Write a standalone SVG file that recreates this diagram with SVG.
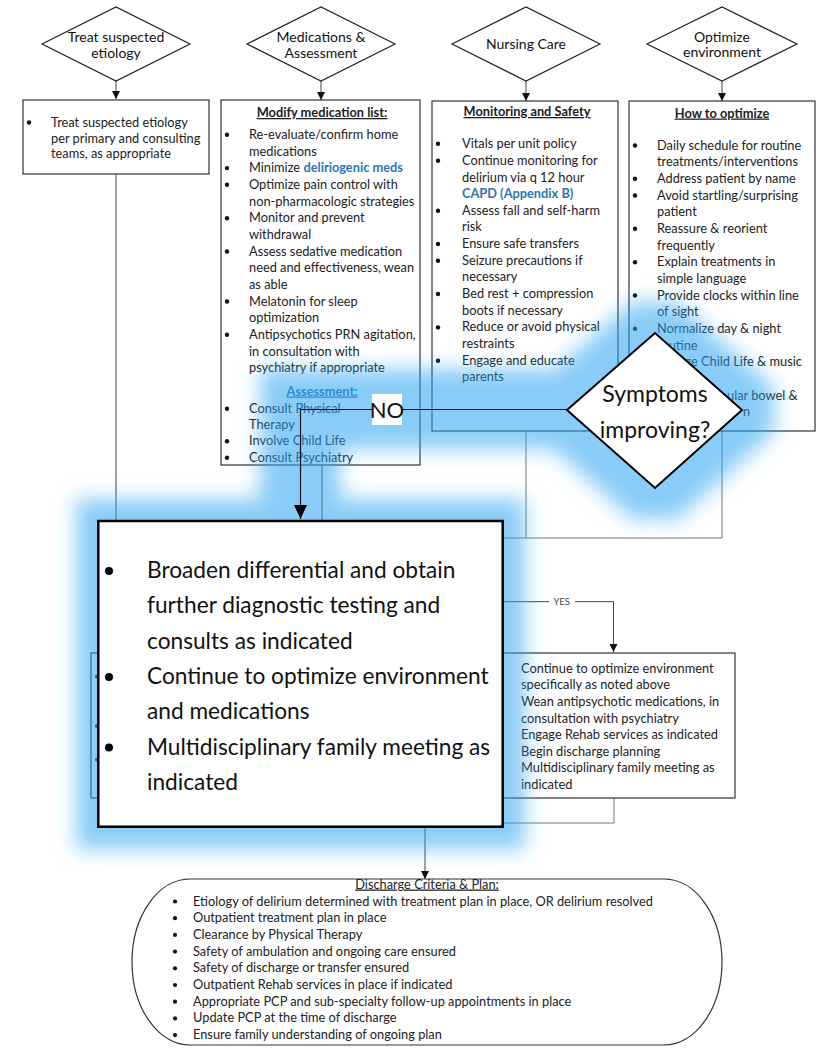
<svg xmlns="http://www.w3.org/2000/svg" width="820" height="1052" viewBox="0 0 820 1052">
  <defs>
    <style>
      .t { font-family: Lato, "Liberation Sans", sans-serif; font-size: 12.8px; fill: #222; }
      .dl { font-family: Lato, "Liberation Sans", sans-serif; font-size: 14px; fill: #111; text-anchor: middle; }
      .hd { font-weight: bold; text-decoration: underline; text-anchor: middle; }
      .lnk { fill: #2E75B6; font-weight: bold; }
      .big { font-family: Lato, "Liberation Sans", sans-serif; font-size: 22.7px; fill: #111; }
      .box { fill: #fff; stroke: #333; stroke-width: 1.2; }
      .dia { fill: #fff; stroke: #222; stroke-width: 1.2; }
      .con { fill: none; stroke: #444; stroke-width: 1; }
      .con2 { fill: none; stroke: #777; stroke-width: 1; }
      .dot { fill: #111; }
    </style>
    <marker id="ah" markerUnits="userSpaceOnUse" markerWidth="8" markerHeight="8" refX="8" refY="4" orient="auto">
      <path d="M0,0 L8,4 L0,8 z" fill="#111"/>
    </marker>
    <marker id="ahBig" markerUnits="userSpaceOnUse" markerWidth="14" markerHeight="13" refX="14" refY="6.5" orient="auto">
      <path d="M0,0 L14,6.5 L0,13 z" fill="#000"/>
    </marker>
    <filter id="glow" x="-25%" y="-25%" width="150%" height="150%">
      <feMorphology in="SourceAlpha" operator="dilate" radius="22" result="d"/>
      <feGaussianBlur in="d" stdDeviation="10" result="b"/>
      <feFlood flood-color="#29a3f0" flood-opacity="0.55"/>
      <feComposite in2="b" operator="in"/>
    </filter>
  </defs>

  <rect width="820" height="1052" fill="#fff"/>

  <!-- base connectors -->
  <g id="connectors">
    <path class="con" d="M116,81 V99" marker-end="url(#ah)"/>
    <path class="con" d="M321,81 V100" marker-end="url(#ah)"/>
    <path class="con" d="M526,81 V101" marker-end="url(#ah)"/>
    <path class="con" d="M722,81 V101" marker-end="url(#ah)"/>
    <path class="con" d="M116,174 V538"/>
    <path class="con" d="M322,465 V538"/>
    <path class="con2" d="M526,431 V538"/>
    <path class="con2" d="M722,431 V538"/>
    <path class="con2" d="M116,538 H722"/>
    <path class="con" d="M470,601.7 H613.5 V652" marker-end="url(#ah)"/>
    <path class="con2" d="M614,798 V823 H425"/>
    <path class="con" d="M425,823 V879" marker-end="url(#ah)"/>
    <rect x="549" y="596" width="26" height="11" fill="#fff"/>
    <text class="t" x="561.7" y="605" text-anchor="middle" style="font-size:9.5px;fill:#444">YES</text>
  </g>

  <!-- top decision diamonds -->
  <g id="d-etiology">
    <polygon class="dia" points="42,44 116,7 190,44 116,81"/>
    <text class="dl" x="116" y="41.5">Treat suspected</text>
    <text class="dl" x="116" y="58">etiology</text>
  </g>
  <g id="d-meds">
    <polygon class="dia" points="247,44 321,7 395,44 321,81"/>
    <text class="dl" x="321" y="41.5">Medications &amp;</text>
    <text class="dl" x="321" y="58">Assessment</text>
  </g>
  <g id="d-nursing">
    <polygon class="dia" points="452,44 526,7 600,44 526,81"/>
    <text class="dl" x="526" y="48.5">Nursing Care</text>
  </g>
  <g id="d-env">
    <polygon class="dia" points="647,44 722,7 797,44 722,81"/>
    <text class="dl" x="722" y="41.5">Optimize</text>
    <text class="dl" x="722" y="57">environment</text>
  </g>

  <!-- column 1 -->
  <g id="b-etiology">
    <rect class="box" x="23" y="100" width="186" height="74"/>
    <circle class="dot" cx="29" cy="122.5" r="2.2"/>
    <text class="t" x="51" y="126.5">Treat suspected etiology</text>
    <text class="t" x="51" y="142.5">per primary and consulting</text>
    <text class="t" x="51" y="158">teams, as appropriate</text>
  </g>

  <!-- column 2 -->
  <g id="b-meds">
    <rect class="box" x="221" y="100" width="199" height="365"/>
    <text class="t hd" x="322" y="117">Modify medication list:</text>
    <circle class="dot" cx="227" cy="134.8" r="2.2"/>
    <text class="t" x="249" y="138.8">Re-evaluate/confirm home</text>
    <text class="t" x="249" y="155.5">medications</text>
    <circle class="dot" cx="227" cy="168.1" r="2.2"/>
    <text class="t" x="249" y="172.1">Minimize <tspan class="lnk">deliriogenic meds</tspan></text>
    <circle class="dot" cx="227" cy="184.8" r="2.2"/>
    <text class="t" x="249" y="188.8">Optimize pain control with</text>
    <text class="t" x="249" y="205.5">non-pharmacologic strategies</text>
    <circle class="dot" cx="227" cy="218.2" r="2.2"/>
    <text class="t" x="249" y="222.2">Monitor and prevent</text>
    <text class="t" x="249" y="238.8">withdrawal</text>
    <circle class="dot" cx="227" cy="251.5" r="2.2"/>
    <text class="t" x="249" y="255.5">Assess sedative medication</text>
    <text class="t" x="249" y="272.2">need and effectiveness, wean</text>
    <text class="t" x="249" y="288.8">as able</text>
    <circle class="dot" cx="227" cy="301.5" r="2.2"/>
    <text class="t" x="249" y="305.5">Melatonin for sleep</text>
    <text class="t" x="249" y="322.2">optimization</text>
    <circle class="dot" cx="227" cy="334.8" r="2.2"/>
    <text class="t" x="249" y="338.8">Antipsychotics PRN agitation,</text>
    <text class="t" x="249" y="355.5">in consultation with</text>
    <text class="t" x="249" y="372.2">psychiatry if appropriate</text>
    <text class="t hd lnk" x="322" y="395.5">Assessment:</text>
    <circle class="dot" cx="227" cy="408.8" r="2.2"/>
    <text class="t" x="249" y="412.8">Consult Physical</text>
    <text class="t" x="249" y="429">Therapy</text>
    <circle class="dot" cx="227" cy="441.2" r="2.2"/>
    <text class="t" x="249" y="445.2">Involve Child Life</text>
    <circle class="dot" cx="227" cy="457.8" r="2.2"/>
    <text class="t" x="249" y="461.8">Consult Psychiatry</text>
  </g>

  <!-- column 3 -->
  <g id="b-nursing">
    <rect class="box" x="432" y="101" width="186" height="330"/>
    <text class="t hd" x="527" y="116">Monitoring and Safety</text>
    <circle class="dot" cx="438" cy="143.8" r="2.2"/>
    <text class="t" x="462" y="147.8">Vitals per unit policy</text>
    <circle class="dot" cx="438" cy="160.8" r="2.2"/>
    <text class="t" x="462" y="164.8">Continue monitoring for</text>
    <text class="t" x="462" y="181.5">delirium via q 12 hour</text>
    <text class="t lnk" x="462" y="198.3">CAPD (Appendix B)</text>
    <circle class="dot" cx="438" cy="210.8" r="2.2"/>
    <text class="t" x="462" y="214.8">Assess fall and self-harm</text>
    <text class="t" x="462" y="231.4">risk</text>
    <circle class="dot" cx="438" cy="244" r="2.2"/>
    <text class="t" x="462" y="248">Ensure safe transfers</text>
    <circle class="dot" cx="438" cy="260.7" r="2.2"/>
    <text class="t" x="462" y="264.7">Seizure precautions if</text>
    <text class="t" x="462" y="281.3">necessary</text>
    <circle class="dot" cx="438" cy="294" r="2.2"/>
    <text class="t" x="462" y="298">Bed rest + compression</text>
    <text class="t" x="462" y="314.7">boots if necessary</text>
    <circle class="dot" cx="438" cy="327.4" r="2.2"/>
    <text class="t" x="462" y="331.4">Reduce or avoid physical</text>
    <text class="t" x="462" y="348">restraints</text>
    <circle class="dot" cx="438" cy="360.7" r="2.2"/>
    <text class="t" x="462" y="364.7">Engage and educate</text>
    <text class="t" x="462" y="381">parents</text>
  </g>

  <!-- column 4 -->
  <g id="b-env">
    <rect class="box" x="629" y="101" width="186" height="330"/>
    <text class="t hd" x="722" y="117.5">How to optimize</text>
    <circle class="dot" cx="635" cy="145.5" r="2.2"/>
    <text class="t" x="657" y="149.5">Daily schedule for routine</text>
    <text class="t" x="657" y="166.2">treatments/interventions</text>
    <circle class="dot" cx="635" cy="178.8" r="2.2"/>
    <text class="t" x="657" y="182.8">Address patient by name</text>
    <circle class="dot" cx="635" cy="195.5" r="2.2"/>
    <text class="t" x="657" y="199.5">Avoid startling/surprising</text>
    <text class="t" x="657" y="216.2">patient</text>
    <circle class="dot" cx="635" cy="228.8" r="2.2"/>
    <text class="t" x="657" y="232.8">Reassure &amp; reorient</text>
    <text class="t" x="657" y="249.5">frequently</text>
    <circle class="dot" cx="635" cy="262.2" r="2.2"/>
    <text class="t" x="657" y="266.2">Explain treatments in</text>
    <text class="t" x="657" y="282.8">simple language</text>
    <circle class="dot" cx="635" cy="295.5" r="2.2"/>
    <text class="t" x="657" y="299.5">Provide clocks within line</text>
    <text class="t" x="657" y="316.2">of sight</text>
    <circle class="dot" cx="635" cy="328.8" r="2.2"/>
    <text class="t" x="657" y="332.8">Normalize day &amp; night</text>
    <text class="t" x="657" y="349.5">routine</text>
    <circle class="dot" cx="635" cy="362.2" r="2.2"/>
    <text class="t" x="657" y="366.2">Engage Child Life &amp; music</text>
    <text class="t" x="727" y="399.5">ular bowel &amp;</text>
    <text class="t" x="743" y="416.2">n</text>
  </g>

  <!-- lower left box, mostly covered -->
  <g id="b-next-left">
    <rect class="box" x="91" y="653" width="380" height="145"/>
    <circle class="dot" cx="97" cy="676.7" r="2"/>
    <circle class="dot" cx="97" cy="726" r="2"/>
    <circle class="dot" cx="97" cy="759.7" r="2"/>
  </g>

  <!-- improving branch -->
  <g id="b-improving">
    <rect class="box" x="470" y="653" width="265" height="145"/>
    <text class="t" x="521" y="672.8">Continue to optimize environment</text>
    <text class="t" x="521" y="689.4">specifically as noted above</text>
    <text class="t" x="521" y="706">Wean antipsychotic medications, in</text>
    <text class="t" x="521" y="722.6">consultation with psychiatry</text>
    <text class="t" x="521" y="739.2">Engage Rehab services as indicated</text>
    <text class="t" x="521" y="755.8">Begin discharge planning</text>
    <text class="t" x="521" y="772.4">Multidisciplinary family meeting as</text>
    <text class="t" x="521" y="789">indicated</text>
  </g>

  <!-- discharge terminator -->
  <g id="discharge">
    <path class="box" d="M190,879 H664 A58,83 0 0 1 664,1045 H190 A58,83 0 0 1 190,879 Z"/>
    <text class="t" x="427" y="888.5" style="text-anchor:middle;text-decoration:underline">Discharge Criteria &amp; Plan:</text>
    <circle class="dot" cx="175" cy="901.5" r="2.1"/>
    <text class="t" x="193" y="905.5">Etiology of delirium determined with treatment plan in place, OR delirium resolved</text>
    <circle class="dot" cx="175" cy="918.2" r="2.1"/>
    <text class="t" x="193" y="922.2">Outpatient treatment plan in place</text>
    <circle class="dot" cx="175" cy="934.9" r="2.1"/>
    <text class="t" x="193" y="938.9">Clearance by Physical Therapy</text>
    <circle class="dot" cx="175" cy="951.6" r="2.1"/>
    <text class="t" x="193" y="955.6">Safety of ambulation and ongoing care ensured</text>
    <circle class="dot" cx="175" cy="968.3" r="2.1"/>
    <text class="t" x="193" y="972.3">Safety of discharge or transfer ensured</text>
    <circle class="dot" cx="175" cy="985" r="2.1"/>
    <text class="t" x="193" y="989">Outpatient Rehab services in place if indicated</text>
    <circle class="dot" cx="175" cy="1001.7" r="2.1"/>
    <text class="t" x="193" y="1005.7">Appropriate PCP and sub-specialty follow-up appointments in place</text>
    <circle class="dot" cx="175" cy="1018.4" r="2.1"/>
    <text class="t" x="193" y="1022.4">Update PCP at the time of discharge</text>
    <circle class="dot" cx="175" cy="1035.1" r="2.1"/>
    <text class="t" x="193" y="1039.1">Ensure family understanding of ongoing plan</text>
  </g>

  <!-- highlight glow behind the emphasised path -->
  <g id="highlight" filter="url(#glow)">
    <rect x="98" y="521" width="405" height="306" fill="#000"/>
    <polygon points="567,410 655,333 742,410 655,488" fill="#000" stroke="#000" stroke-width="14"/>
    <path d="M567,409 H300 V519" fill="none" stroke="#000" stroke-width="36"/>
  </g>

  <!-- not-improving connector -->
  <g id="no-connector">
    <path d="M567,409.5 H300.5 V519" fill="none" stroke="#111" stroke-width="1.2" marker-end="url(#ahBig)"/>
    <rect x="372" y="394" width="30" height="31" fill="#fff"/>
    <text x="387" y="418" text-anchor="middle" style="font-family:Lato,'Liberation Sans',sans-serif;font-size:22px;fill:#111">NO</text>
  </g>

  <g id="d-improving">
    <polygon points="567,410 655,333 742,410 655,488" fill="#fff" stroke="#000" stroke-width="2"/>
    <text x="655" y="402" text-anchor="middle" style="font-family:Lato,'Liberation Sans',sans-serif;font-size:23px;fill:#111">Symptoms</text>
    <text x="655" y="438" text-anchor="middle" style="font-family:Lato,'Liberation Sans',sans-serif;font-size:23px;fill:#111">improving?</text>
  </g>

  <g id="b-broaden">
    <rect x="98.3" y="521" width="404.4" height="305.7" fill="#fff" stroke="#000" stroke-width="2.5"/>
    <circle cx="109" cy="571" r="4" fill="#000"/>
    <text class="big" x="147" y="578">Broaden differential and obtain</text>
    <text class="big" x="147" y="613.3">further diagnostic testing and</text>
    <text class="big" x="147" y="648.6">consults as indicated</text>
    <circle cx="109" cy="677" r="4" fill="#000"/>
    <text class="big" x="147" y="683.9">Continue to optimize environment</text>
    <text class="big" x="147" y="719.2">and medications</text>
    <circle cx="109" cy="747.5" r="4" fill="#000"/>
    <text class="big" x="147" y="754.5">Multidisciplinary family meeting as</text>
    <text class="big" x="147" y="789.8">indicated</text>
  </g>
</svg>
